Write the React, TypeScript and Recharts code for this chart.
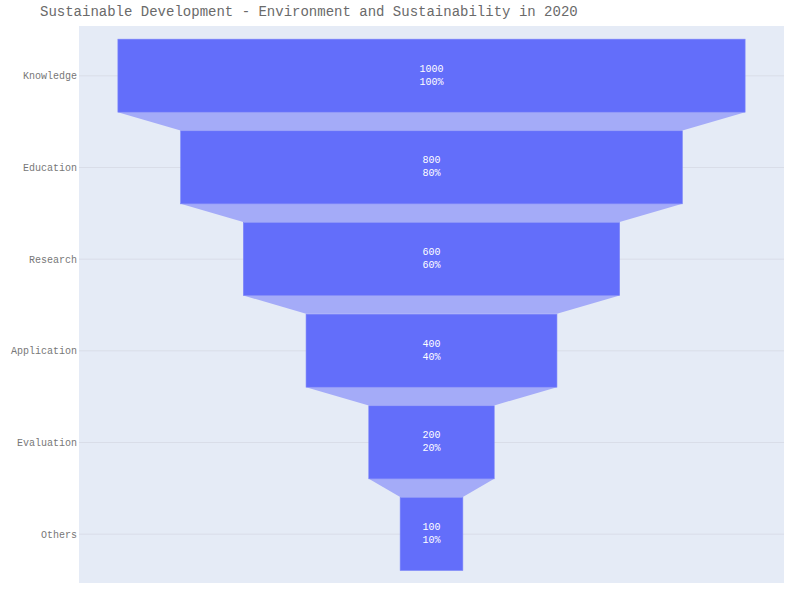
import React from 'react';
import { BarChart, Bar, XAxis, YAxis, CartesianGrid } from 'recharts';

const stages = ['Knowledge', 'Education', 'Research', 'Application', 'Evaluation', 'Others'];
const counts = [1000, 800, 600, 400, 200, 100];

const FONT = '"Liberation Mono", "Courier New", monospace';
const BAR_COLOR = '#636efa';
const CONNECTOR_COLOR = '#a4abf8';

const data = stages.map((stage, i) => ({
  stage,
  value: counts[i],
  range: [-counts[i] / 2, counts[i] / 2],
  next: i < counts.length - 1 ? counts[i + 1] : null,
  percent: Math.round((counts[i] / counts[0]) * 100),
}));

// gridlines only at the category centres
const gridRows = ({ offset }: any) => {
  if (!offset) return [];
  const band = offset.height / stages.length;
  return stages.map((_, i) => offset.top + band * (i + 0.5));
};

// bar plus the trapezoid that joins it to the next stage
const FunnelShape = (props: any) => {
  const { x, y, width, height, payload } = props;
  const cx = x + width / 2;
  const cy = y + height / 2;
  let connector = null;
  if (payload.next != null) {
    const nextW = (width * payload.next) / payload.value;
    const bottom = y + height;
    const nextTop = y + height / 0.8;
    const pts = [
      [x, bottom],
      [x + width, bottom],
      [cx + nextW / 2, nextTop],
      [cx - nextW / 2, nextTop],
    ]
      .map((p) => p.join(','))
      .join(' ');
    connector = <polygon points={pts} fill={CONNECTOR_COLOR} stroke="none" />;
  }
  return (
    <g>
      {connector}
      <rect x={x} y={y} width={width} height={height} fill={BAR_COLOR} stroke="#7d86f9" strokeWidth={0.6} />
      <text x={cx} y={cy - 6.5} textAnchor="middle" dominantBaseline="central" fill="#ffffff" fontSize={10} fontFamily={FONT}>
        {payload.value}
      </text>
      <text x={cx} y={cy + 6.5} textAnchor="middle" dominantBaseline="central" fill="#ffffff" fontSize={10} fontFamily={FONT}>
        {payload.percent}%
      </text>
    </g>
  );
};

export default function App() {
  return (
    <div style={{ position: 'absolute', left: 0, top: 0, width: 800, height: 600, background: '#fff' }}>
      <div
        style={{
          position: 'absolute',
          left: 40,
          top: 4,
          fontFamily: FONT,
          fontSize: 14,
          color: '#6a6a6a',
          whiteSpace: 'nowrap',
        }}
      >
        Sustainable Development - Environment and Sustainability in 2020
      </div>
      <div style={{ position: 'absolute', left: 79, top: 26, width: 705, height: 557, background: '#e5ebf6' }} />
      <div style={{ position: 'absolute', left: 0, top: 0 }}>
        <BarChart
          width={800}
          height={600}
          data={data}
          layout="vertical"
          margin={{ top: 30, right: 16, bottom: 20, left: 0 }}
          barCategoryGap="10%"
        >
          <CartesianGrid
            fill="none"
            stroke="#d9dde8"
            vertical={false}
            horizontalCoordinatesGenerator={gridRows}
          />
          <XAxis type="number" domain={[-562, 562]} hide />
          <YAxis
            type="category"
            dataKey="stage"
            width={79}
            axisLine={false}
            tickLine={false}
            tickSize={0}
            tickMargin={2}
            tick={{ fill: '#777', fontSize: 10, fontFamily: FONT }}
          />
          <Bar dataKey="range" shape={FunnelShape} isAnimationActive={false} />
        </BarChart>
      </div>
    </div>
  );
}
